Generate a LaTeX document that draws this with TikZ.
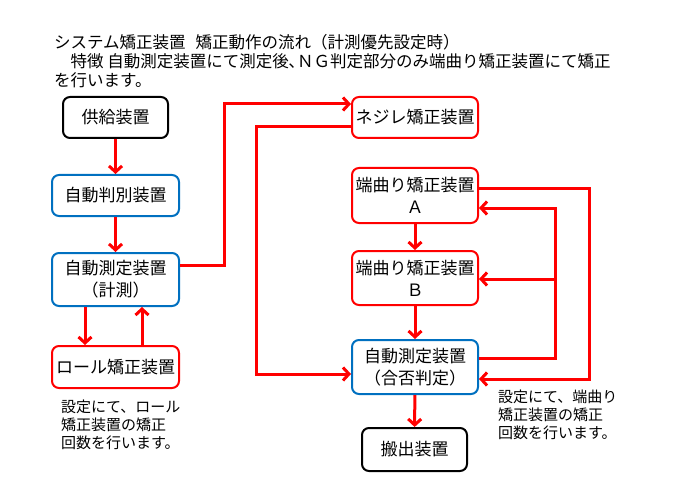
\documentclass[tikz,border=0pt]{standalone}
\usepackage{fontspec}
\setmainfont{Noto Sans CJK JP}
\usetikzlibrary{arrows.meta}
\definecolor{boxblue}{RGB}{0,112,192}
\definecolor{lred}{RGB}{255,0,0}
\begin{document}
\begin{tikzpicture}[x=1pt,y=-1pt,
  box/.style={draw, line width=2pt, rounded corners=7pt, inner sep=0pt, align=center,
    font=\fontsize{17pt}{22pt}\selectfont},
  blackbox/.style={box, draw=black},
  bluebox/.style={box, draw=boxblue},
  redbox/.style={box, draw=lred},
  conn/.style={draw=lred, line width=3pt},
  arr/.style={conn, -{Straight Barb[length=6pt,width=13pt,line width=3pt]}},
  txt/.style={anchor=west, inner sep=0pt, font=\fontsize{16.5pt}{18pt}\selectfont},
  note/.style={anchor=north west, inner sep=0pt, align=left, font=\fontsize{15pt}{18pt}\selectfont}
]
\useasboundingbox (0,0) rectangle (676,494);
\fill[white] (0,0) rectangle (676,494);

% title
\node[txt] (t1) at (54,42) {システム矯正装置\hspace{0.6em}矯正動作の流れ（計測優先設定時）};
\node[txt] (t2) at (54,61.5) {　特徴 自動測定装置にて測定後､ＮＧ判定部分のみ端曲り矯正装置にて矯正};
\node[txt] (t3) at (54,80) {を行います。};

% left column
\node[blackbox, minimum width=105pt, minimum height=41pt] (sup) at (115.5,117.5) {供給装置};
\node[bluebox, minimum width=127pt, minimum height=41pt] (disc) at (115.5,195.5) {自動判別装置};
\node[bluebox, minimum width=127pt, minimum height=53pt] (meas) at (115.5,279.5) {自動測定装置\\（計測）};
\node[redbox, minimum width=127pt, minimum height=42pt] (roll) at (115.5,367) {ロール矯正装置};

% right column
\node[redbox, minimum width=126pt, minimum height=41pt] (neji) at (415,117.5) {ネジレ矯正装置};
\node[redbox, minimum width=126pt, minimum height=55pt] (bendA) at (415,195.5) {端曲り矯正装置\\Ａ};
\node[redbox, minimum width=126pt, minimum height=54pt] (bendB) at (415,278) {端曲り矯正装置\\Ｂ};
\node[bluebox, minimum width=126pt, minimum height=54pt] (judge) at (415,367) {自動測定装置\\（合否判定）};
\node[blackbox, minimum width=105pt, minimum height=43pt] (out) at (414.5,449.5) {搬出装置};

% notes
\node[note] (n1) at (61,400) {設定にて、ロール\\矯正装置の矯正\\回数を行います。};
\node[note] (n2) at (498,389.5) {設定にて、端曲り\\矯正装置の矯正\\回数を行います。};

% connectors
\draw[arr] (sup) -- (disc);
\draw[arr] (disc) -- (meas);
\draw[arr] ([xshift=-30.5pt]meas.south) -- ([xshift=-30.5pt]roll.north);
\draw[arr] ([xshift=26.5pt]roll.north) -- ([xshift=26.5pt]meas.south);
\draw[arr] ([yshift=14.5pt]meas.east) -- ++(44,0) |- ([yshift=13.5pt]neji.west);
\draw[arr] ([yshift=-9pt]neji.west) -- ++(-95,0) |- ([yshift=-7pt]judge.west);
\draw[arr] (bendA) -- (bendB);
\draw[arr] (bendB) -- (judge);
\draw[arr] (judge) -- (out);
\draw[arr] ([yshift=9pt]judge.east) -- ++(76,0) |- ([yshift=-12.5pt]bendA.east);
\coordinate (jB) at (554,279);
\draw[arr] (jB) -- ([yshift=-1pt]bendB.east);
\draw[arr] ([yshift=6.5pt]bendA.east) -- ++(110,0) |- ([yshift=-12pt]judge.east);
\end{tikzpicture}
\end{document}
